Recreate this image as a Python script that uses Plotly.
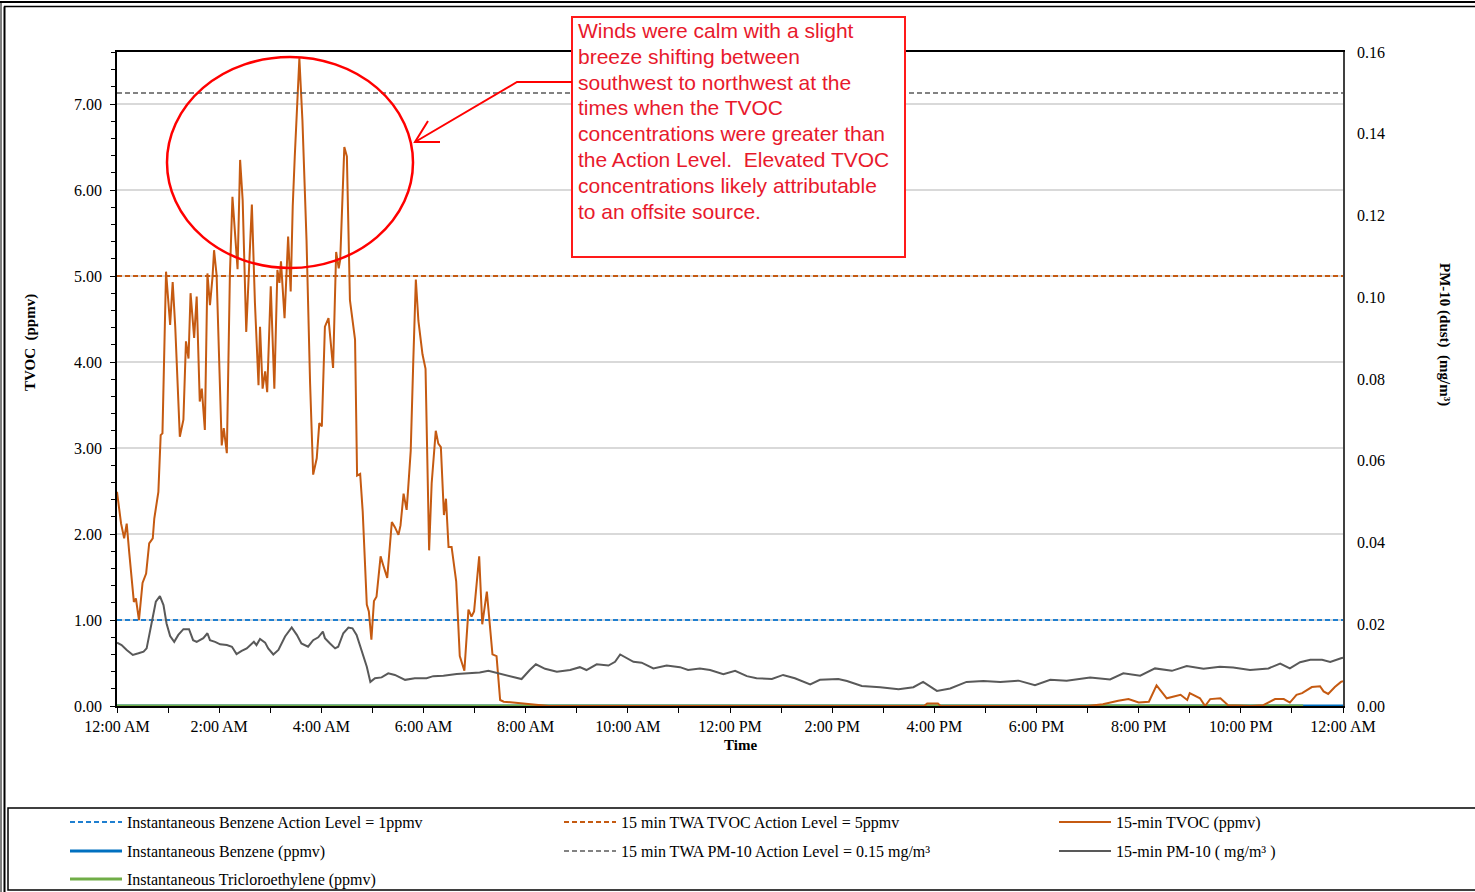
import plotly.graph_objects as go

# ---------------- data ----------------
tvoc_hours = [0.00, 0.08, 0.14, 0.19, 0.24, 0.33, 0.37, 0.43, 0.50, 0.57, 0.63, 0.70, 0.73, 0.81, 0.855, 0.89,
              0.96, 1.04, 1.09, 1.14, 1.23, 1.30, 1.35, 1.40, 1.44, 1.51, 1.56, 1.62, 1.66, 1.72, 1.77, 1.82,
              1.87, 1.90, 1.95, 2.05, 2.09, 2.15, 2.21, 2.26, 2.36, 2.41, 2.46, 2.53, 2.64, 2.70, 2.77, 2.80,
              2.85, 2.90, 2.94, 3.01, 3.08, 3.14, 3.18, 3.21, 3.28, 3.35, 3.40, 3.44, 3.48, 3.57, 3.63, 3.71,
              3.78, 3.84, 3.91, 3.96, 4.01, 4.07, 4.14, 4.23, 4.29, 4.34, 4.37, 4.45, 4.50, 4.56, 4.66, 4.70,
              4.76, 4.81, 4.89, 4.93, 4.98, 5.03, 5.08, 5.16, 5.21, 5.29, 5.38, 5.44, 5.51, 5.55, 5.61, 5.67,
              5.70, 5.75, 5.80, 5.85, 5.90, 5.98, 6.04, 6.11, 6.16, 6.24, 6.29, 6.34, 6.40, 6.44, 6.49, 6.55,
              6.64, 6.71, 6.80, 6.88, 6.94, 6.99, 7.09, 7.15, 7.24, 7.35, 7.43, 7.50, 7.57, 7.90, 8.20, 8.45,
              15.80, 15.86, 16.07, 16.12, 19.00, 19.30, 19.60, 19.80, 20.00, 20.20, 20.35, 20.48, 20.55, 20.82,
              20.95, 21.00, 21.20, 21.30, 21.40, 21.60, 21.75, 22.20, 22.44, 22.67, 22.84, 22.96, 23.09, 23.20,
              23.39, 23.55, 23.62, 23.71, 23.84, 23.96, 24.00]
tvoc_ppmv = [2.49, 2.12, 1.95, 2.12, 1.78, 1.21, 1.25, 1.00, 1.43, 1.54, 1.89, 1.95, 2.18, 2.49, 3.15, 3.17,
             5.05, 4.43, 4.93, 4.41, 3.13, 3.33, 4.24, 4.04, 4.80, 4.28, 4.76, 3.54, 3.69, 3.21, 5.03, 4.66,
             4.99, 5.30, 5.01, 3.03, 3.23, 2.94, 5.01, 5.92, 5.08, 6.35, 5.88, 4.35, 5.83, 4.69, 3.73, 4.41,
             3.69, 3.89, 3.65, 4.88, 3.69, 5.07, 4.92, 5.17, 4.51, 5.46, 4.82, 5.81, 6.39, 7.53, 6.81, 5.42,
             3.75, 2.69, 2.88, 3.29, 3.25, 4.41, 4.51, 3.93, 5.28, 5.09, 5.19, 6.50, 6.39, 4.72, 4.26, 2.68,
             2.70, 2.26, 1.18, 1.10, 0.77, 1.22, 1.27, 1.74, 1.64, 1.49, 2.14, 2.08, 1.99, 2.10, 2.47, 2.28,
             2.53, 2.97, 4.01, 4.96, 4.48, 4.09, 3.92, 1.81, 2.59, 3.20, 3.05, 3.01, 2.22, 2.41, 1.85, 1.85,
             1.45, 0.58, 0.41, 1.12, 1.04, 1.10, 1.74, 0.95, 1.33, 0.60, 0.58, 0.07, 0.05, 0.03, 0.02, 0.00,
             0.00, 0.03, 0.03, 0.00, 0.00, 0.02, 0.06, 0.08, 0.04, 0.05, 0.24, 0.15, 0.09, 0.13,
             0.07, 0.15, 0.09, 0.00, 0.08, 0.09, 0.01, 0.00, 0.01, 0.08, 0.08, 0.04, 0.13, 0.15,
             0.22, 0.23, 0.17, 0.14, 0.22, 0.28, 0.29]

pm_hours = [0.00, 0.09, 0.19, 0.31, 0.42, 0.52, 0.58, 0.68, 0.76, 0.84, 0.91, 0.97, 1.04, 1.12, 1.20, 1.30,
            1.41, 1.49, 1.56, 1.69, 1.77, 1.82, 1.92, 2.02, 2.15, 2.25, 2.34, 2.44, 2.54, 2.68, 2.73, 2.80,
            2.90, 2.96, 3.06, 3.16, 3.29, 3.42, 3.52, 3.61, 3.74, 3.84, 3.94, 4.03, 4.07, 4.17, 4.27, 4.33,
            4.43, 4.53, 4.61, 4.69, 4.79, 4.89, 4.96, 5.05, 5.18, 5.31, 5.44, 5.64, 5.83, 6.06, 6.19, 6.39,
            6.65, 6.84, 7.10, 7.27, 7.43, 7.63, 7.92, 8.08, 8.20, 8.38, 8.61, 8.87, 9.06, 9.19, 9.39, 9.62,
            9.75, 9.85, 9.98, 10.11, 10.27, 10.50, 10.76, 11.02, 11.18, 11.41, 11.61, 11.87, 12.10, 12.33,
            12.52, 12.82, 13.04, 13.27, 13.57, 13.76, 14.12, 14.29, 14.58, 14.94, 15.30, 15.59, 15.78, 16.05,
            16.31, 16.63, 16.96, 17.29, 17.65, 17.97, 18.27, 18.59, 19.05, 19.44, 19.70, 20.03, 20.32, 20.65,
            20.94, 21.27, 21.59, 21.85, 22.18, 22.54, 22.77, 22.96, 23.16, 23.36, 23.59, 23.75, 23.96, 24.00]
pm10_mgm3 = [0.0155, 0.0149, 0.0137, 0.0125, 0.0129, 0.0133, 0.0141, 0.0202, 0.0255, 0.0269, 0.0247, 0.0202,
             0.0171, 0.0157, 0.0174, 0.0188, 0.0188, 0.0161, 0.0157, 0.0166, 0.0178, 0.0161, 0.0157, 0.0151,
             0.0149, 0.0145, 0.0127, 0.0135, 0.0141, 0.0157, 0.0149, 0.0164, 0.0155, 0.0141, 0.0126, 0.0137,
             0.0170, 0.0192, 0.0174, 0.0153, 0.0145, 0.0161, 0.0168, 0.0182, 0.0166, 0.0153, 0.0141, 0.0145,
             0.0178, 0.0192, 0.0190, 0.0174, 0.0137, 0.0096, 0.0059, 0.0068, 0.0070, 0.0080, 0.0076, 0.0064,
             0.0068, 0.0068, 0.0073, 0.0074, 0.0078, 0.0080, 0.0082, 0.0086, 0.0081, 0.0076, 0.0066, 0.0088,
             0.0102, 0.0091, 0.0084, 0.0088, 0.0095, 0.0088, 0.0102, 0.0099, 0.0108, 0.0126, 0.0117, 0.0108,
             0.0106, 0.0092, 0.0099, 0.0095, 0.0088, 0.0092, 0.0088, 0.0078, 0.0086, 0.0073, 0.0068, 0.0066,
             0.0076, 0.0068, 0.0053, 0.0064, 0.0066, 0.0061, 0.0049, 0.0046, 0.0041, 0.0046, 0.0059, 0.0037,
             0.0043, 0.0059, 0.0061, 0.0059, 0.0062, 0.0051, 0.0064, 0.0062, 0.0070, 0.0065, 0.0080, 0.0074,
             0.0092, 0.0086, 0.0098, 0.0091, 0.0096, 0.0094, 0.0088, 0.0092, 0.0104, 0.0092, 0.0107, 0.0113,
             0.0113, 0.0108, 0.0117, 0.0118]

benzene_hours = [0.0, 24.0]
benzene_ppmv = [0.0, 0.0]
tce_hours = [0.0, 23.22]
tce_ppmv = [0.0, 0.0]

day_span = [0.0, 24.0]
benzene_action_level = 1.0
tvoc_action_level = 5.0
pm10_action_level = 0.15

time_tickvals = [0, 2, 4, 6, 8, 10, 12, 14, 16, 18, 20, 22, 24]
time_ticktext = ["12:00 AM", "2:00 AM", "4:00 AM", "6:00 AM", "8:00 AM", "10:00 AM", "12:00 PM",
                 "2:00 PM", "4:00 PM", "6:00 PM", "8:00 PM", "10:00 PM", "12:00 AM"]
tvoc_tickvals = [0, 1, 2, 3, 4, 5, 6, 7]
pm_tickvals = [0, 0.02, 0.04, 0.06, 0.08, 0.10, 0.12, 0.14, 0.16]

note_lines = ["Winds were calm with a slight",
              "breeze shifting between",
              "southwest to northwest at the",
              "times when the TVOC",
              "concentrations were greater than",
              "the Action Level.  Elevated TVOC",
              "concentrations likely attributable",
              "to an offsite source."]

# ---------------- layout helpers ----------------
W, H = 1475, 892
L, R, T, B = 117, 1343, 52, 706


def px(x):
    return (x - L) / (R - L)


def py(y):
    return (B - y) / (B - T)


SERIF = "Liberation Serif, Times New Roman, serif"
SANS = "Liberation Sans, Arial, sans-serif"
ORANGE = "#C55A11"
BLUE = "#1F7FD0"
GRAY = "#595959"
GREEN = "#70AD47"
DASH = "5px,3px"

fig = go.Figure()

fig.add_trace(go.Scatter(x=day_span, y=[benzene_action_level] * 2, mode="lines",
                         name="Instantaneous Benzene Action Level = 1ppmv",
                         line=dict(color=BLUE, width=2, dash=DASH), legend="legend"))
fig.add_trace(go.Scatter(x=day_span, y=[tvoc_action_level] * 2, mode="lines",
                         name="15 min TWA TVOC Action Level = 5ppmv",
                         line=dict(color=ORANGE, width=2, dash=DASH), legend="legend2"))
fig.add_trace(go.Scatter(x=benzene_hours, y=benzene_ppmv, mode="lines",
                         name="Instantaneous Benzene (ppmv)",
                         line=dict(color="#0070C0", width=3), legend="legend4"))
fig.add_trace(go.Scatter(x=tce_hours, y=tce_ppmv, mode="lines",
                         name="Instantaneous Tricloroethylene (ppmv)",
                         line=dict(color=GREEN, width=3), legend="legend7"))
fig.add_trace(go.Scatter(x=tvoc_hours, y=tvoc_ppmv, mode="lines",
                         name="15-min TVOC (ppmv)",
                         line=dict(color=ORANGE, width=2), legend="legend3"))
fig.add_trace(go.Scatter(x=day_span, y=[pm10_action_level] * 2, mode="lines", yaxis="y2",
                         name="15 min TWA PM-10 Action Level = 0.15 mg/m³",
                         line=dict(color=GRAY, width=1.5, dash=DASH), legend="legend5"))
fig.add_trace(go.Scatter(x=pm_hours, y=pm10_mgm3, mode="lines", yaxis="y2",
                         name="15-min PM-10 ( mg/m³ )",
                         line=dict(color=GRAY, width=2), legend="legend6"))


def legend_at(xp, yp):
    return dict(orientation="v", xref="container", yref="container",
                x=xp / W, y=1 - yp / H, xanchor="left", yanchor="middle",
                bgcolor="rgba(0,0,0,0)", borderwidth=0, itemwidth=52,
                font=dict(family=SERIF, size=16, color="#000000"),
                itemclick=False, itemdoubleclick=False)


# legend symbols start at x 70 / 564 / 1059 ; rows 822 / 851 / 879
legends = {
    "legend": legend_at(65, 822),
    "legend2": legend_at(559, 822),
    "legend3": legend_at(1054, 822),
    "legend4": legend_at(65, 851),
    "legend5": legend_at(559, 851),
    "legend6": legend_at(1054, 851),
    "legend7": legend_at(65, 879),
}

shapes = []
# outer chart frame
shapes.append(dict(type="line", xref="paper", yref="paper", x0=px(0), x1=px(W), y0=py(2), y1=py(2),
                   line=dict(color="#000000", width=2)))
shapes.append(dict(type="line", xref="paper", yref="paper", x0=px(4), x1=px(W), y0=py(6.5), y1=py(6.5),
                   line=dict(color="#000000", width=1.5)))
shapes.append(dict(type="line", xref="paper", yref="paper", x0=px(1), x1=px(1), y0=py(2), y1=py(H),
                   line=dict(color="#000000", width=1)))
shapes.append(dict(type="line", xref="paper", yref="paper", x0=px(4.5), x1=px(4.5), y0=py(6.5), y1=py(H),
                   line=dict(color="#000000", width=2)))
# legend frame
shapes.append(dict(type="rect", xref="paper", yref="paper", x0=px(8), x1=px(W + 10), y0=py(808), y1=py(890),
                   line=dict(color="#000000", width=1.5), fillcolor="rgba(0,0,0,0)"))
# ellipse
shapes.append(dict(type="circle", xref="paper", yref="paper", x0=px(167), x1=px(413), y0=py(268), y1=py(57),
                   line=dict(color="#FF0000", width=2.5), layer="above"))
# note box
shapes.append(dict(type="rect", xref="paper", yref="paper", x0=px(572), x1=px(905), y0=py(257), y1=py(17),
                   line=dict(color="#FF1A1A", width=2), fillcolor="#FFFFFF", layer="above"))
# arrow
shapes.append(dict(type="path", xref="paper", yref="paper",
                   path="M {} {} L {} {} L {} {}".format(px(572), py(82), px(517), py(82), px(415), py(142)),
                   line=dict(color="#FF0000", width=2), layer="above"))
shapes.append(dict(type="path", xref="paper", yref="paper",
                   path="M {} {} L {} {} L {} {}".format(px(428), py(121), px(415), py(142), px(440), py(142)),
                   line=dict(color="#FF0000", width=2), layer="above"))

annotations = []
for i, line in enumerate(note_lines):
    annotations.append(dict(xref="paper", yref="paper", x=px(576), y=py(30.5 + i * 25.8),
                            xanchor="left", yanchor="middle", showarrow=False, text=line,
                            font=dict(family=SANS, size=21, color="#E8192C")))
annotations.append(dict(xref="paper", yref="paper", x=px(30), y=py(343), showarrow=False,
                        xanchor="center", yanchor="middle",
                        text="<b>TVOC  (ppmv)</b>", textangle=-90,
                        font=dict(family=SERIF, size=15, color="#000000")))
annotations.append(dict(xref="paper", yref="paper", x=px(740), y=py(745), showarrow=False,
                        xanchor="center", yanchor="middle",
                        text="<b>Time</b>", font=dict(family=SERIF, size=15, color="#000000")))
annotations.append(dict(xref="paper", yref="paper", x=px(1445), y=py(334), showarrow=False,
                        xanchor="center", yanchor="middle",
                        text="<b>PM-10 (dust)  (mg/m³)</b>", textangle=90,
                        font=dict(family=SERIF, size=15, color="#000000")))

fig.update_layout(
    width=W, height=H,
    showlegend=True,
    margin=dict(l=L, r=W - R, t=T, b=H - B, pad=0, autoexpand=False),
    paper_bgcolor="#FFFFFF", plot_bgcolor="#FFFFFF",
    font=dict(family=SERIF, size=16, color="#000000"),
    xaxis=dict(range=[0, 24], tickvals=time_tickvals, ticktext=time_ticktext,
               showgrid=False, zeroline=False, showline=True, linecolor="#000000", linewidth=1.5,
               mirror=True, ticks="outside", ticklen=5, tickcolor="#000000", tickwidth=1,
               layer="below traces",
               minor=dict(dtick=1, tick0=0, ticks="outside", ticklen=5, tickcolor="#000000"),
               tickfont=dict(family=SERIF, size=16)),
    yaxis=dict(range=[0, (B - T) / 86.0], tickvals=tvoc_tickvals, tickformat=".2f",
               showgrid=True, gridcolor="#D9D9D9", gridwidth=1.5, zeroline=False,
               showline=True, linecolor="#000000", linewidth=1.5,
               ticks="outside", ticklen=5, tickcolor="#000000", ticklabelstandoff=5,
               minor=dict(dtick=0.2, tick0=0, ticks="outside", ticklen=4, tickcolor="#000000", showgrid=False),
               tickfont=dict(family=SERIF, size=16)),
    yaxis2=dict(range=[0, 0.16], tickvals=pm_tickvals, tickformat=".2f", overlaying="y", side="right",
                showgrid=False, zeroline=False, showline=True, linecolor="#404040", linewidth=1.5,
                ticks="", tickfont=dict(family=SERIF, size=16), ticklabelstandoff=9),
    shapes=shapes,
    annotations=annotations,
    **legends,
)

fig.write_html("out.html", config={"displayModeBar": False},
               post_script="document.body.style.margin='0';document.body.style.overflow='hidden';")
